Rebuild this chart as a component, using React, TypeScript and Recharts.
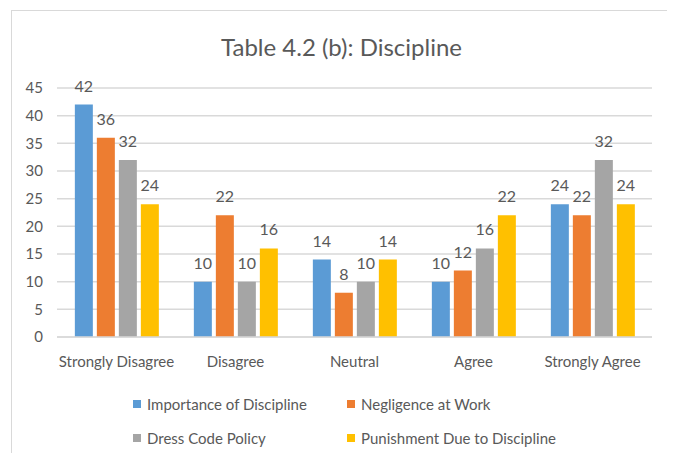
import React from 'react';
import { BarChart, Bar, XAxis, YAxis, CartesianGrid, Legend, LabelList } from 'recharts';

const categories = ['Strongly Disagree', 'Disagree', 'Neutral', 'Agree', 'Strongly Agree'];
const importance = [42, 10, 14, 10, 24];
const negligence = [36, 22, 8, 12, 22];
const dressCode = [32, 10, 10, 16, 32];
const punishment = [24, 16, 14, 22, 24];
const yTicks = [0, 5, 10, 15, 20, 25, 30, 35, 40, 45];

const series = [
  { key: 'importance', name: 'Importance of Discipline', color: '#5B9BD5' },
  { key: 'negligence', name: 'Negligence at Work', color: '#ED7D31' },
  { key: 'dress', name: 'Dress Code Policy', color: '#A5A5A5' },
  { key: 'punishment', name: 'Punishment Due to Discipline', color: '#FFC000' },
];

const data = categories.map((name, i) => ({
  name,
  importance: importance[i],
  negligence: negligence[i],
  dress: dressCode[i],
  punishment: punishment[i],
}));

const TEXT = '#595959';
const FONT = 'Lato, "Open Sans", sans-serif';

const LegendBox = () => (
  <div style={{ position: 'relative', height: 80, fontFamily: FONT, fontSize: 15, color: TEXT }}>
    {series.map((s, i) => (
      <div
        key={s.key}
        style={{
          position: 'absolute',
          left: i % 2 === 0 ? 121 : 335,
          top: i < 2 ? 27 : 61,
          display: 'flex',
          alignItems: 'center',
          lineHeight: '20px',
          whiteSpace: 'nowrap',
        }}
      >
        <span style={{ width: 8, height: 8, background: s.color, marginRight: 6, display: 'inline-block' }} />
        {s.name}
      </div>
    ))}
  </div>
);

export default function App() {
  return (
    <div style={{ position: 'relative', width: 675, height: 461, margin: -8, background: '#fff', fontFamily: FONT }}>
      <div
        style={{
          position: 'absolute',
          left: 11,
          top: 10,
          width: 657,
          height: 460,
          border: '1.5px solid #d9d9d9',
        }}
      />
      <div
        style={{
          position: 'absolute',
          top: 31,
          left: 4,
          width: 675,
          textAlign: 'center',
          fontSize: 24,
          color: TEXT,
          lineHeight: '32px',
        }}
      >
        Table 4.2 (b): Discipline
      </div>
      <BarChart
        width={675}
        height={461}
        data={data}
        margin={{ top: 88, right: 23, left: 12, bottom: 14 }}
        barCategoryGap="15%"
        barGap={4}
      >
        <CartesianGrid vertical={false} stroke="#d9d9d9" strokeWidth={1.5} />
        <XAxis
          dataKey="name"
          height={30}
          tickLine={false}
          axisLine={{ stroke: '#d9d9d9', strokeWidth: 1.5 }}
          tick={{ fill: TEXT, fontSize: 15, fontFamily: FONT }}
          tickMargin={13}
          interval={0}
        />
        <YAxis
          domain={[0, 45]}
          ticks={yTicks}
          width={45}
          axisLine={false}
          tickLine={false}
          tickMargin={8}
          tick={{ fill: TEXT, fontSize: 15, fontFamily: FONT }}
        />
        <Legend verticalAlign="bottom" content={() => <LegendBox />} />
        {series.map((s) => (
          <Bar key={s.key} dataKey={s.key} name={s.name} fill={s.color} isAnimationActive={false}>
            <LabelList dataKey={s.key} position="top" offset={13} fill={TEXT} fontSize={16} fontFamily={FONT} />
          </Bar>
        ))}
      </BarChart>
    </div>
  );
}
